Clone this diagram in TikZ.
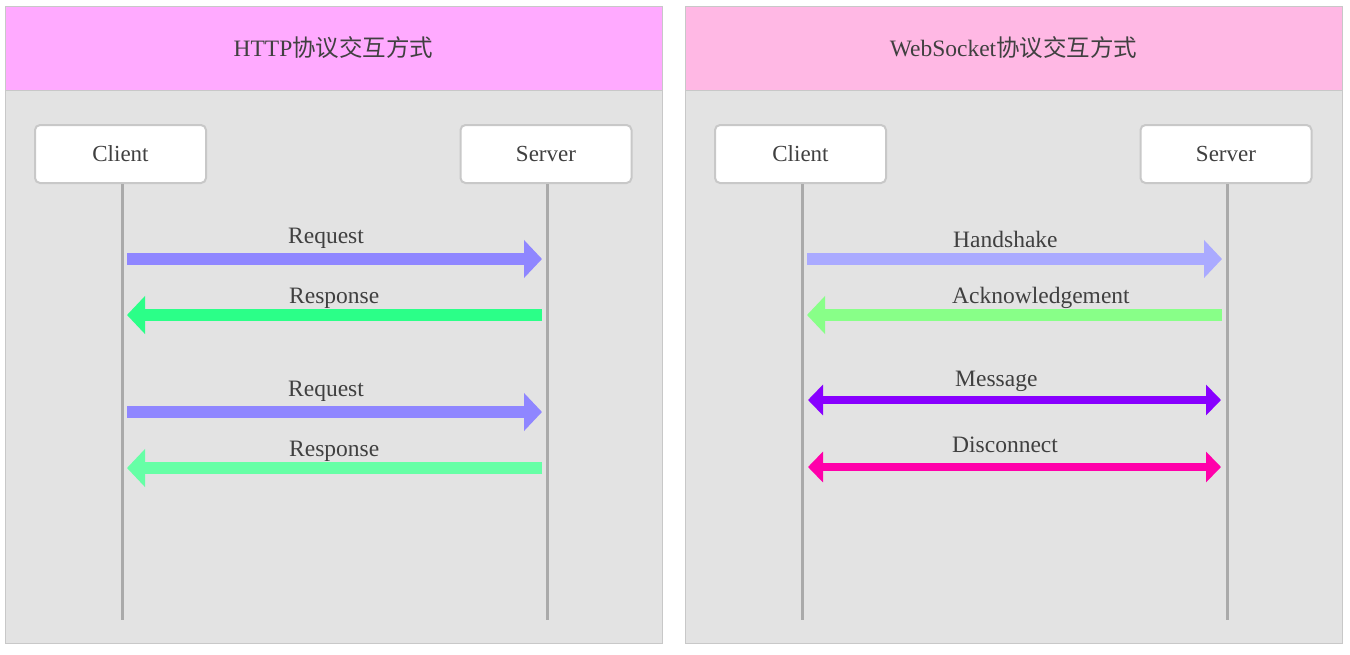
\documentclass[tikz,border=0pt]{standalone}
\usepackage{fontspec}
\setmainfont{Liberation Serif}
\newfontfamily\cjk{Noto Sans CJK SC}
\usetikzlibrary{arrows.meta}
\definecolor{txt}{HTML}{404040}
\definecolor{panelbg}{HTML}{E3E3E3}
\definecolor{panelln}{HTML}{C8C8C8}
\definecolor{headL}{HTML}{FFAAFF}
\definecolor{headR}{HTML}{FFB8E4}
\definecolor{lifeclr}{HTML}{AAAAAA}
\definecolor{reqclr}{HTML}{8F86FF}
\definecolor{respA}{HTML}{2BFF88}
\definecolor{respB}{HTML}{66FFA6}
\definecolor{handclr}{HTML}{AAAAFF}
\definecolor{ackclr}{HTML}{88FF88}
\definecolor{msgclr}{HTML}{8800FF}
\definecolor{discclr}{HTML}{FF00AA}
\begin{document}
\begin{tikzpicture}[x=1pt,y=-1pt,
  lbl/.style={font=\fontsize{23.5}{28}\selectfont, text=txt, inner sep=0pt, anchor=base west},
  panel/.style={fill=panelbg, draw=panelln, line width=0.8pt, minimum width=657pt, minimum height=637pt, inner sep=0pt},
  header/.style={draw=panelln, line width=0.8pt, minimum width=657pt, minimum height=84pt, inner sep=0pt, font=\fontsize{23.5}{28}\selectfont, text=txt},
  actor/.style={fill=white, draw=panelln, line width=2pt, rounded corners=5pt, minimum width=171pt, minimum height=58pt, inner sep=0pt, font=\fontsize{23}{28}\selectfont, text=txt},
  life/.style={draw=lifeclr, line width=3pt},
  single/.style={line width=12.5pt, line cap=butt, -{Triangle[length=18pt,width=37pt]}},
  double/.style={line width=8pt, line cap=butt, {Triangle[length=15pt,width=30pt]}-{Triangle[length=15pt,width=30pt]}}
]
\useasboundingbox (0,0) rectangle (1350,654);
\fill[white] (0,0) rectangle (1350,654);

% ---------- left panel ----------
\node[panel] (lpanel) at (333.5,324.5) {};
\node[header, fill=headL] (lhead) at (333.5,48) {HTTP{\cjk 协议交互方式}};
\node[actor] (lcli) at (120.5,154) {Client};
\node[actor] (lsrv) at (546,154) {Server};
\coordinate (lcend) at (122,620);
\coordinate (lsend) at (547,620);
\draw[life] (lcli.south -| lcend) -- (lcend);
\draw[life] (lsrv.south -| lsend) -- (lsend);

\coordinate (la1) at (127,259); \coordinate (lb1) at (542,259);
\coordinate (la2) at (127,315); \coordinate (lb2) at (542,315);
\coordinate (la3) at (127,412); \coordinate (lb3) at (542,412);
\coordinate (la4) at (127,468); \coordinate (lb4) at (542,468);
\draw[single, draw=reqclr] (la1) -- (lb1);
\draw[single, draw=respA] (lb2) -- (la2);
\draw[single, draw=reqclr] (la3) -- (lb3);
\draw[single, draw=respB] (lb4) -- (la4);
\node[lbl] (lt1) at (288,243) {Request};
\node[lbl] (lt2) at (289,303) {Response};
\node[lbl] (lt3) at (288,396) {Request};
\node[lbl] (lt4) at (289,456) {Response};

% ---------- right panel ----------
\node[panel] (rpanel) at (1013.5,324.5) {};
\node[header, fill=headR] (rhead) at (1013.5,48) {WebSocket{\cjk 协议交互方式}};
\node[actor] (rcli) at (800.5,154) {Client};
\node[actor] (rsrv) at (1226,154) {Server};
\coordinate (rcend) at (802,620);
\coordinate (rsend) at (1227,620);
\draw[life] (rcli.south -| rcend) -- (rcend);
\draw[life] (rsrv.south -| rsend) -- (rsend);

\coordinate (ra1) at (807,259); \coordinate (rb1) at (1222,259);
\coordinate (ra2) at (807,315); \coordinate (rb2) at (1222,315);
\coordinate (ra3) at (808,400); \coordinate (rb3) at (1221,400);
\coordinate (ra4) at (808,467); \coordinate (rb4) at (1221,467);
\draw[single, draw=handclr] (ra1) -- (rb1);
\draw[single, draw=ackclr] (rb2) -- (ra2);
\draw[double, draw=msgclr] (ra3) -- (rb3);
\draw[double, draw=discclr] (ra4) -- (rb4);
\node[lbl] (rt1) at (953,247) {Handshake};
\node[lbl] (rt2) at (952,303) {Acknowledgement};
\node[lbl] (rt3) at (955,386) {Message};
\node[lbl] (rt4) at (952,452) {Disconnect};
\end{tikzpicture}
\end{document}
